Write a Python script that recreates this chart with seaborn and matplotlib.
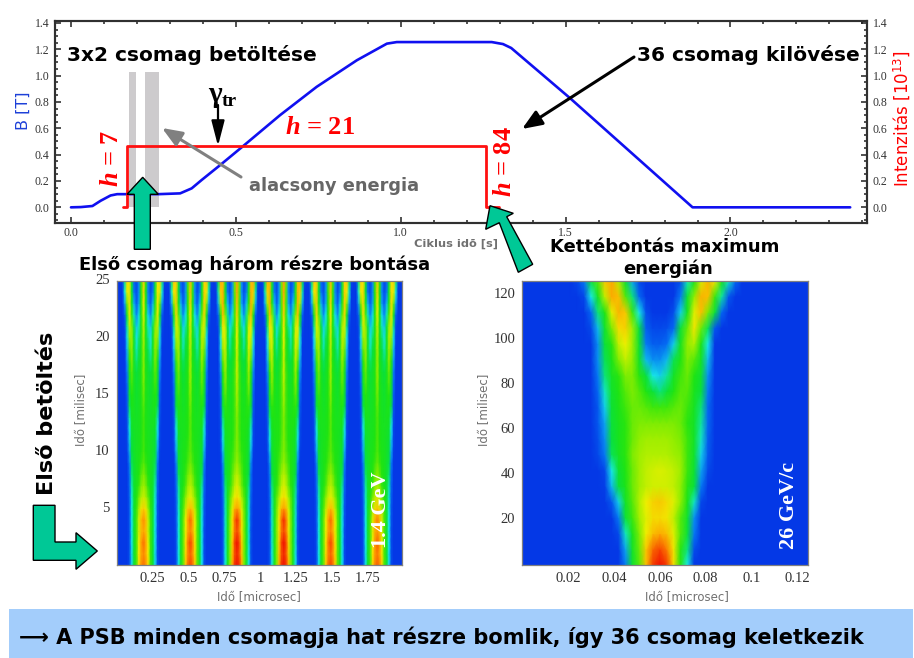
"""PSB/PS cycle with bunch splitting tomograms, redrawn with seaborn."""
import matplotlib
matplotlib.use("Agg")
import matplotlib.pyplot as plt
import numpy as np
import pandas as pd
import seaborn as sns
from matplotlib.colors import LinearSegmentedColormap
from matplotlib.patches import Polygon, Rectangle
from matplotlib.ticker import MultipleLocator

W, H = 914, 658

# magnetic field over the cycle
B_TIME = [0.0, 0.03, 0.065, 0.09, 0.12, 0.14, 0.265, 0.331, 0.366, 0.396, 0.452, 0.523, 0.634,
          0.745, 0.867, 0.958, 0.988, 1.276, 1.31, 1.335, 1.513, 1.885, 2.363]
B_FIELD = [0.0, 0.002, 0.01, 0.05, 0.09, 0.1, 0.1, 0.106, 0.144, 0.207, 0.32, 0.467, 0.70,
           0.915, 1.117, 1.243, 1.255, 1.255, 1.24, 1.21, 0.83, 0.0, 0.0]

# beam intensity over the cycle
I_TIME = [0.158, 0.17, 0.17, 1.258, 1.258, 1.298]
I_LEVEL = [0.0, 0.0, 0.467, 0.467, 0.0, 0.0]

INJECTION_BANDS = [(0.176, 0.196), (0.225, 0.266)]

# triple splitting: half a bunch profile per ms, centre outwards in steps of 1/20 period
TRIPLE_PERIOD = 0.3265
TRIPLE_CENTRE = 0.187
TRIPLE_GAIN = [0.93, 0.98, 1.05, 1.05, 0.98, 0.95]
TRIPLE_PROFILE = [
    [96, 92, 78, 52, 36, 18, 3, 0, 0, 0, 0],
    [92, 88, 74, 52, 36, 18, 3, 0, 0, 0, 0],
    [96, 90, 72, 52, 36, 19, 3, 0, 0, 0, 0],
    [88, 84, 68, 52, 36, 19, 3, 0, 0, 0, 0],
    [92, 85, 68, 52, 36, 19, 4, 0, 0, 0, 0],
    [80, 76, 62, 50, 36, 20, 4, 0, 0, 0, 0],
    [68, 64, 56, 48, 36, 21, 5, 0, 0, 0, 0],
    [62, 58, 50, 44, 36, 23, 6, 0, 0, 0, 0],
    [58, 54, 48, 42, 36, 26, 7, 0, 0, 0, 0],
    [54, 50, 46, 42, 36, 28, 9, 0, 0, 0, 0],
    [52, 48, 44, 42, 38, 30, 13, 1, 0, 0, 0],
    [52, 47, 43, 41, 38, 33, 16, 2, 0, 0, 0],
    [52, 46, 42, 41, 40, 36, 19, 2, 0, 0, 0],
    [52, 46, 42, 40, 42, 40, 23, 3, 0, 0, 0],
    [54, 46, 40, 38, 42, 44, 28, 4, 0, 0, 0],
    [56, 46, 40, 36, 42, 48, 32, 5, 0, 0, 0],
    [58, 46, 38, 34, 42, 52, 36, 7, 0, 0, 0],
    [60, 46, 36, 30, 40, 54, 42, 9, 0, 0, 0],
    [60, 44, 32, 26, 38, 58, 48, 12, 0, 0, 0],
    [62, 44, 28, 22, 36, 60, 54, 15, 0, 0, 0],
    [64, 44, 26, 20, 34, 62, 60, 18, 1, 0, 0],
    [66, 44, 22, 16, 28, 60, 66, 24, 2, 0, 0],
    [70, 46, 18, 10, 22, 52, 74, 40, 5, 0, 0],
    [74, 46, 12, 5, 14, 42, 76, 56, 12, 0, 0],
    [78, 48, 10, 3, 8, 34, 76, 70, 20, 0, 0],
    [80, 50, 10, 2, 6, 30, 74, 78, 26, 2, 0],
]

# doublet splitting at top energy: rows every 7 ms, columns 0.024..0.096 every 0.003 us
DOUBLE_STEP_X = 0.003
DOUBLE_STEP_T = 7
DOUBLE_PAD_LEFT = 8
DOUBLE_PAD_RIGHT = 10
DOUBLE_ROWS = [
    [0, 0, 0, 0, 0, 0, 0, 8, 32, 50, 78, 95, 100, 95, 72, 46, 18, 0, 0, 0, 0, 0, 0, 0, 0],
    [0, 0, 0, 0, 0, 0, 0, 12, 36, 52, 76, 90, 94, 88, 70, 46, 24, 3, 0, 0, 0, 0, 0, 0, 0],
    [0, 0, 0, 0, 0, 0, 2, 20, 40, 54, 68, 78, 82, 78, 66, 50, 30, 8, 0, 0, 0, 0, 0, 0, 0],
    [0, 0, 0, 0, 0, 0, 8, 30, 48, 58, 66, 72, 72, 70, 62, 50, 34, 10, 0, 0, 0, 0, 0, 0, 0],
    [0, 0, 0, 0, 0, 4, 16, 36, 50, 60, 68, 74, 76, 72, 66, 56, 42, 20, 2, 0, 0, 0, 0, 0, 0],
    [0, 0, 0, 0, 1, 14, 28, 42, 52, 58, 62, 64, 64, 64, 62, 56, 46, 28, 8, 0, 0, 0, 0, 0, 0],
    [0, 0, 0, 0, 2, 18, 32, 44, 52, 58, 62, 64, 65, 64, 62, 58, 48, 32, 12, 2, 0, 0, 0, 0, 0],
    [0, 0, 0, 2, 8, 26, 38, 46, 54, 58, 60, 60, 60, 60, 58, 56, 48, 34, 16, 4, 0, 0, 0, 0, 0],
    [0, 0, 0, 3, 10, 28, 40, 46, 52, 56, 58, 58, 58, 58, 56, 54, 48, 36, 20, 5, 0, 0, 0, 0, 0],
    [0, 0, 0, 4, 12, 30, 40, 46, 52, 54, 54, 54, 54, 54, 54, 52, 46, 36, 22, 6, 0, 0, 0, 0, 0],
    [0, 0, 0, 4, 16, 32, 42, 48, 52, 52, 50, 48, 48, 48, 50, 52, 48, 38, 24, 6, 0, 0, 0, 0, 0],
    [0, 0, 0, 6, 20, 34, 44, 50, 54, 50, 44, 30, 24, 30, 44, 50, 50, 40, 28, 8, 0, 0, 0, 0, 0],
    [0, 0, 0, 8, 24, 38, 46, 54, 54, 46, 28, 18, 16, 22, 36, 48, 52, 44, 32, 10, 0, 0, 0, 0, 0],
    [0, 0, 0, 10, 26, 42, 54, 62, 56, 36, 14, 10, 10, 14, 26, 44, 54, 50, 36, 14, 0, 0, 0, 0, 0],
    [0, 0, 0, 10, 30, 46, 62, 68, 58, 32, 8, 5, 5, 7, 16, 38, 56, 60, 42, 18, 0, 0, 0, 0, 0],
    [0, 0, 2, 14, 34, 54, 72, 74, 58, 28, 5, 2, 2, 3, 6, 30, 52, 70, 52, 26, 4, 0, 0, 0, 0],
    [0, 0, 6, 24, 44, 66, 80, 76, 48, 18, 3, 0, 0, 0, 3, 16, 40, 66, 78, 54, 30, 6, 0, 0, 0],
    [0, 2, 18, 38, 62, 82, 78, 50, 24, 6, 0, 0, 0, 0, 0, 8, 32, 56, 80, 78, 48, 22, 4, 0, 0],
    [2, 8, 30, 50, 76, 82, 60, 32, 12, 2, 0, 0, 0, 0, 0, 3, 20, 40, 64, 80, 70, 42, 20, 6, 0],
]

LEVELS = [0.0, 0.07, 0.18, 0.27, 0.45, 0.56, 0.68, 0.84, 1.0]
LEVEL_COLORS = ["#0438e6", "#0470f4", "#18e8e8", "#08e040", "#20e410", "#90ee00", "#f0f000",
                "#ffa000", "#f01000"]

SANS = "DejaVu Sans"
SERIF = "Liberation Serif"
GREEN = "#00c896"
TICK_GREY = "#333333"
LABEL_GREY = "#707070"

sns.set_theme(style="ticks")
plt.rcParams.update(
    {
        "font.family": [SANS],
        "mathtext.fontset": "custom",
        "mathtext.it": "Liberation Serif:italic:bold",
        "mathtext.rm": "DejaVu Sans",
    }
)
cmap = LinearSegmentedColormap.from_list("tomo", list(zip(LEVELS, LEVEL_COLORS)))


def px_axes(fig, left, top, right, bottom):
    return fig.add_axes([left / W, 1 - bottom / H, (right - left) / W, (bottom - top) / H])


def style_tomo(ax, xticks, xlabels, yticks, xminor, yminor, x_lim, y_lim, to_col, to_row):
    ax.set_xlim(to_col(x_lim[0]), to_col(x_lim[1]))
    ax.set_ylim(to_row(y_lim[0]), to_row(y_lim[1]))
    ax.set_xticks([to_col(v) for v in xticks], labels=xlabels, rotation=0)
    ax.set_yticks([to_row(v) for v in yticks], labels=[str(v) for v in yticks], rotation=0)
    ax.set_xticks([to_col(v) for v in xminor], minor=True)
    ax.set_yticks([to_row(v) for v in yminor], minor=True)
    ax.tick_params(which="both", direction="in", top=True, right=True, left=True, bottom=True,
                   color="#202020", width=0.7)
    ax.tick_params(which="major", length=3, labelsize=10.5, labelcolor=TICK_GREY, pad=5)
    ax.tick_params(which="minor", length=1.5)
    for lab in ax.get_xticklabels() + ax.get_yticklabels():
        lab.set_family(SERIF)
    for spine in ax.spines.values():
        spine.set_visible(True)
        spine.set_color("#808080")
        spine.set_linewidth(0.9)


fig = plt.figure(figsize=(W / 100, H / 100), dpi=100, facecolor="white")

# main cycle
ax = px_axes(fig, 55, 21, 867, 223)
for start, stop in INJECTION_BANDS:
    ax.axvspan(start, stop, ymin=0.0777, ymax=0.749, color="#cdcbcd", lw=0, zorder=1)
sns.lineplot(x=B_TIME, y=B_FIELD, ax=ax, color="#1010f0", lw=1.9, zorder=3,
             estimator=None, sort=False)
ax.set_xlim(-0.0485, 2.414)
ax.set_ylim(-0.119, 1.415)
ax.xaxis.set_major_locator(MultipleLocator(0.5))
ax.xaxis.set_minor_locator(MultipleLocator(0.1))
ax.yaxis.set_major_locator(MultipleLocator(0.2))
ax.yaxis.set_minor_locator(MultipleLocator(0.05))
ax.set_ylabel("")

twin = ax.twinx()
sns.lineplot(x=I_TIME, y=I_LEVEL, ax=twin, color="#ff1010", lw=2, zorder=4,
             estimator=None, sort=False)
twin.set_ylim(ax.get_ylim())
twin.yaxis.set_major_locator(MultipleLocator(0.2))
twin.yaxis.set_minor_locator(MultipleLocator(0.05))
twin.set_ylabel("")

ax.tick_params(which="both", direction="in", top=True, color="#202020", width=1.1)
ax.tick_params(which="major", length=4, labelsize=8.5, labelcolor=TICK_GREY, pad=3)
ax.tick_params(axis="y", which="major", pad=4)
ax.tick_params(which="minor", length=2)
twin.tick_params(which="both", direction="in", color="#202020", width=1.1)
twin.tick_params(which="major", length=4, labelsize=8.5, labelcolor=TICK_GREY, pad=4)
twin.tick_params(which="minor", length=2)
for lab in ax.get_xticklabels() + ax.get_yticklabels() + twin.get_yticklabels():
    lab.set_family(SERIF)
for axis in (ax, twin):
    for spine in axis.spines.values():
        spine.set_color("#303030")
        spine.set_linewidth(1.5)

# first injection tomogram
tile_step = TRIPLE_PERIOD / 20
rows = []
for prof in np.array(TRIPLE_PROFILE):
    full = np.hstack([prof[::-1], prof[1:-1]])
    row = [np.zeros(2)]
    row += [np.clip(full * gain, 0, 100) for gain in TRIPLE_GAIN]
    row.append(np.zeros(3))
    rows.append(np.hstack(row))
triple = pd.DataFrame(rows)
triple_x0 = TRIPLE_CENTRE - 12 * tile_step

ax_l = px_axes(fig, 116.7, 280.7, 401.7, 565)
sns.heatmap(triple, ax=ax_l, cmap=cmap, vmin=0, vmax=100, cbar=False, shading="gouraud")
style_tomo(
    ax_l,
    [0.25, 0.5, 0.75, 1, 1.25, 1.5, 1.75],
    ["0.25", "0.5", "0.75", "1", "1.25", "1.5", "1.75"],
    [5, 10, 15, 20, 25],
    np.arange(0.05, 2.0, 0.05),
    np.arange(1, 25.5, 1),
    (0, 1.99),
    (0.02, 25.0),
    lambda v: (v - triple_x0) / tile_step,
    lambda v: v,
)

# top energy tomogram
double = np.array(DOUBLE_ROWS)
double = pd.DataFrame(
    np.hstack([np.zeros((len(double), DOUBLE_PAD_LEFT)), double,
               np.zeros((len(double), DOUBLE_PAD_RIGHT))])
)
ax_r = px_axes(fig, 522.3, 280.7, 807.7, 565)
sns.heatmap(double, ax=ax_r, cmap=cmap, vmin=0, vmax=100, cbar=False, shading="gouraud")
style_tomo(
    ax_r,
    [0.02, 0.04, 0.06, 0.08, 0.1, 0.12],
    ["0.02", "0.04", "0.06", "0.08", "0.1", "0.12"],
    [20, 40, 60, 80, 100, 120],
    np.arange(0.01, 0.125, 0.01),
    np.arange(10, 126, 10),
    (0.0, 0.1245),
    (0.05, 126),
    lambda v: v / DOUBLE_STEP_X,
    lambda v: v / DOUBLE_STEP_T,
)

# everything annotated sits on a page-sized overlay in pixel units
ov = fig.add_axes([0, 0, 1, 1], zorder=10)
ov.set_xlim(0, W)
ov.set_ylim(H, 0)
ov.axis("off")

ov.add_patch(Rectangle((9, 609), 904, 49, color="#a3cdfb", lw=0, zorder=0))
ov.text(19, 637, "⟶ A PSB minden csomagja hat részre bomlik, így 36 csomag keletkezik",
        fontsize=15, weight="bold", va="center", color="black")

green_shapes = [
    [(142.7, 177.3), (158.3, 194.3), (150.3, 194.3), (150.3, 249.3), (134.3, 249.3),
     (134.3, 194.3), (127, 194.3)],
    [(490, 205.7), (513.3, 213.3), (506.7, 216.7), (532.7, 264.3), (518.3, 272.3),
     (499.3, 222.7), (485.7, 229.3)],
    [(33.3, 505.3), (55, 505.3), (55, 542), (76, 542), (76, 532.7), (97.3, 551), (76, 569.3),
     (76, 560.3), (33.3, 560.3)],
]
for shape in green_shapes:
    ov.add_patch(Polygon(shape, closed=True, facecolor=GREEN, edgecolor="black", lw=1))


def arrow(start, end, color, lw, scale, head="head_width=0.3,head_length=0.75"):
    ov.annotate("", xy=end, xytext=start,
                arrowprops=dict(arrowstyle="-|>," + head, color=color, lw=lw, mutation_scale=scale,
                                shrinkA=0, shrinkB=0))


arrow((218, 105), (218, 146), "black", 1.6, 18, "head_width=0.22,head_length=0.85")
arrow((241, 177), (162, 128), "#808080", 2.2, 16)
arrow((634, 57), (522, 129), "black", 2.2, 16)

BIG = dict(weight="bold", color="black", va="center", ha="center")
ov.text(192, 55, "3x2 csomag betöltése", fontsize=14.5, **BIG)
ov.text(748, 55, "36 csomag kilövése", fontsize=14.5, **BIG)
ov.text(254.5, 265, "Első csomag három részre bontása", fontsize=12.9, **BIG)
ov.text(665, 247, "Kettébontás maximum", fontsize=13, **BIG)
ov.text(668, 269, "energián", fontsize=13, **BIG)
ov.text(47, 413, "Első betöltés", fontsize=16.1, rotation=90, **BIG)
ov.text(334.5, 186, "alacsony energia", fontsize=12.8, weight="bold", color="#666666",
        va="center", ha="center")
ov.text(455.5, 244, "Ciklus idõ [s]", fontsize=8.2, weight="bold", color="#707070",
        va="center", ha="center")

RED = dict(color="#ff0000", family=SERIF, weight="bold", va="center", ha="center", fontsize=19)
ov.text(320, 127, "$h$ = 21", **RED)
ov.text(111, 158, "$h$ = 7", rotation=90, **RED)
ov.text(504.5, 162, "$h$ = 84", rotation=90, **RED)

ov.text(214.5, 94, "γ", family=SERIF, weight="bold", fontsize=21, color="black",
        va="center", ha="center")
ov.text(229, 101, "tr", family=SERIF, weight="bold", fontsize=14, color="black",
        va="center", ha="center")

ov.text(23, 111, "B [T]", color="#1c3fd8", fontsize=11.5, rotation=90, va="center", ha="center")
ov.text(902, 119, "Intenzitás [10$^{13}$]", color="#ff0000", fontsize=12, rotation=90,
        va="center", ha="center")

for x, y, label, rot in [
    (82, 410, "Idő [milisec]", 90),
    (259, 598, "Idő [microsec]", 0),
    (485, 410, "Idő [milisec]", 90),
    (687, 598, "Idő [microsec]", 0),
]:
    ov.text(x, y, label, color=LABEL_GREY, fontsize=8.5, rotation=rot, va="center", ha="center")

ov.text(381, 510, "1.4 GeV", family=SERIF, weight="bold", color="white", fontsize=16,
        rotation=90, va="center", ha="center")
ov.text(789, 505, "26 GeV/c", family=SERIF, weight="bold", color="white", fontsize=16,
        rotation=90, va="center", ha="center")

fig.savefig("out.png", dpi=100, facecolor="white")
